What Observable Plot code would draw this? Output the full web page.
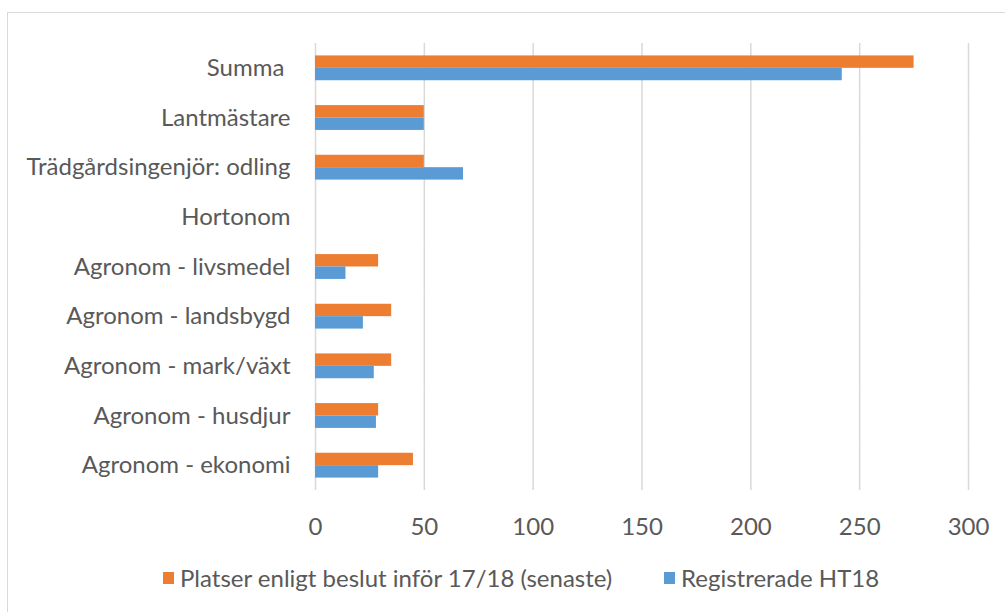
<!DOCTYPE html>
<html>
<head>
<meta charset="utf-8">
<script src="https://cdn.jsdelivr.net/npm/d3@7"></script>
<script src="https://cdn.jsdelivr.net/npm/@observablehq/plot@0.6"></script>
<style>
  html, body { margin: 0; padding: 0; background: #fff; }
  #wrap { position: relative; width: 1005px; height: 612px; overflow: hidden; font-family: Lato, "Liberation Sans", sans-serif; }
  #frame { position: absolute; left: 7px; top: 12px; width: 1100px; height: 700px; border: 1px solid #d9d9d9; box-sizing: border-box; }
  #chart { position: absolute; left: 0; top: 0; }
  #legend { position: absolute; top: 563px; left: 0; width: 1005px; font-size: 24px; line-height: 30px; color: #595959; }
  .item { position: absolute; top: 0; white-space: nowrap; display: flex; align-items: center; height: 30px; }
  .sw { display: inline-block; width: 11px; height: 12px; margin-right: 6px; }
</style>
</head>
<body>
<div id="wrap">
  <div id="frame"></div>
  <div id="chart"></div>
  <div id="legend"></div>
</div>
<script>
const categories = ["Summa ", "Lantmästare", "Trädgårdsingenjör: odling", "Hortonom", "Agronom - livsmedel", "Agronom - landsbygd", "Agronom - mark/växt", "Agronom - husdjur", "Agronom - ekonomi"];
const seriesNames = ["Platser enligt beslut inför 17/18 (senaste)", "Registrerade HT18"];
const platser = [275, 50, 50, 0, 29, 35, 35, 29, 45];
const registrerade = [242, 50, 68, 0, 14, 22, 27, 28, 29];
const colors = ["#ED7D31", "#5B9BD5"];
const xTicks = [0, 50, 100, 150, 200, 250, 300];

const rows = [];
categories.forEach((c, i) => {
  rows.push({category: c, series: seriesNames[0], value: platser[i]});
  rows.push({category: c, series: seriesNames[1], value: registrerade[i]});
});

const chart = Plot.plot({
  width: 1005,
  height: 540,
  marginLeft: 315,
  marginRight: 37,
  marginTop: 43,
  marginBottom: 50,
  style: {fontFamily: "Lato, 'Liberation Sans', sans-serif", fontSize: "24px", color: "#595959", background: "transparent"},
  x: {domain: [0, 300], ticks: xTicks, tickSize: 0, tickPadding: 27, label: null},
  fy: {domain: categories, padding: 0, round: false, label: null, axis: "left", tickSize: 0, tickPadding: 25,
       tickFormat: d => d.replace(/ $/, "\u00a0")},
  y: {domain: seriesNames, paddingInner: 0, paddingOuter: 1, round: false, axis: null},
  color: {domain: seriesNames, range: colors},
  marks: [
    Plot.ruleX(xTicks, {stroke: "#d9d9d9", strokeWidth: 1.5, strokeOpacity: 1}),
    Plot.barX(rows, {fy: "category", y: "series", x: "value", fill: "series", insetTop: 0, insetBottom: 0})
  ]
});
document.getElementById("chart").appendChild(chart);

const legend = document.getElementById("legend");
const lefts = [163, 664];
seriesNames.forEach((s, i) => {
  const it = document.createElement("div");
  it.className = "item";
  it.style.left = lefts[i] + "px";
  const sw = document.createElement("span");
  sw.className = "sw";
  sw.style.background = colors[i];
  it.appendChild(sw);
  it.appendChild(document.createTextNode(s));
  legend.appendChild(it);
});
</script>
</body>
</html>
